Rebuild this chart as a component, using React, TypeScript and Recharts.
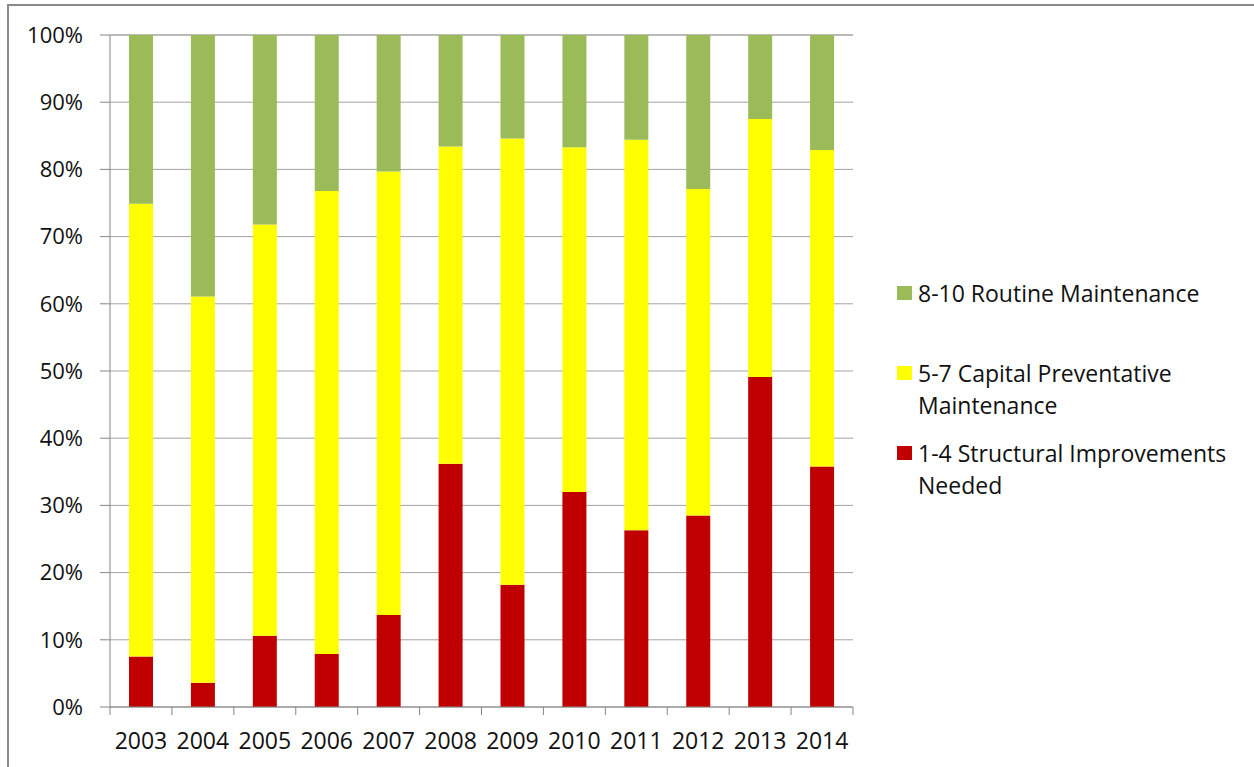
import { BarChart, Bar, XAxis, YAxis, CartesianGrid, Legend } from 'recharts';

const years = ['2003', '2004', '2005', '2006', '2007', '2008', '2009', '2010', '2011', '2012', '2013', '2014'];
// share of bridges per rating band, percent
const structural = [7.5, 3.6, 10.6, 7.9, 13.7, 36.2, 18.2, 32.0, 26.3, 28.5, 49.1, 35.8];
const capital = [67.4, 57.5, 61.2, 68.9, 66.0, 47.2, 66.4, 51.3, 58.1, 48.6, 38.4, 47.1];
const routine = [25.1, 38.9, 28.2, 23.2, 20.3, 16.6, 15.4, 16.7, 15.6, 22.9, 12.5, 17.1];
const pctTicks = [0, 10, 20, 30, 40, 50, 60, 70, 80, 90, 100];

const data = years.map((year, i) => ({
  year,
  structural: structural[i],
  capital: capital[i],
  routine: routine[i],
}));

const FONT = '"Open Sans", "Noto Sans", sans-serif';
const AXIS = '#868686';

function YearTick(props: any) {
  const { x, y, payload, index, visibleTicksCount } = props;
  const half = payload && typeof payload.offset === 'number' && payload.offset > 0 ? payload.offset : 30.96;
  const last = index === visibleTicksCount - 1;
  return (
    <g>
      <line x1={x - half} x2={x - half} y1={y} y2={y + 8} stroke={AXIS} />
      {last && <line x1={x + half} x2={x + half} y1={y} y2={y + 8} stroke={AXIS} />}
      <text x={x} y={y + 42} textAnchor="middle" fontSize={23} fill="#111" fontFamily={FONT}>
        {payload.value}
      </text>
    </g>
  );
}

function SideLegend(props: any) {
  const items = [...(props.payload || [])].reverse();
  return (
    <div style={{ fontFamily: FONT, fontSize: 23, color: '#111' }}>
      {items.map((it: any) => (
        <div key={it.value} style={{ display: 'flex', alignItems: 'flex-start', height: 80 }}>
          <span style={{ width: 15, height: 14, background: it.color, marginTop: 9, marginRight: 6, flex: 'none' }} />
          <span style={{ width: 335, lineHeight: '32px' }}>{it.value}</span>
        </div>
      ))}
    </div>
  );
}

export default function App() {
  return (
    <div style={{ position: 'relative', width: 1254, height: 767, overflow: 'hidden', background: '#fff' }}>
      <style>{'body{margin:0}'}</style>
      <div style={{ position: 'absolute', left: 7, top: 4, width: 1300, height: 800, borderLeft: '2px solid #8a8a8a', borderTop: '2px solid #8a8a8a' }} />
      <div style={{ position: 'absolute', left: 0, top: 0 }}>
        <BarChart width={1254} height={767} data={data} margin={{ top: 35, right: 401, bottom: 10, left: 30 }} barSize={24}>
          <CartesianGrid vertical={false} stroke="#a3a3a3" />
          <XAxis
            dataKey="year"
            height={50}
            axisLine={{ stroke: AXIS }}
            tickLine={false}
            tickSize={0}
            tickMargin={0}
            interval={0}
            tick={<YearTick />}
          />
          <YAxis
            width={80}
            domain={[0, 100]}
            ticks={pctTicks}
            tickFormatter={(v) => `${v}%`}
            axisLine={{ stroke: AXIS }}
            tickLine={{ stroke: AXIS }}
            tickSize={10}
            tickMargin={17}
            tick={{ fontSize: 22, fill: '#111', fontFamily: FONT }}
          />
          <Legend
            layout="vertical"
            align="center"
            verticalAlign="middle"
            content={<SideLegend />}
            wrapperStyle={{ left: 897, top: 277, width: 356, height: 240 }}
          />
          <Bar dataKey="structural" stackId="a" name="1-4 Structural Improvements Needed" fill="#C00000" isAnimationActive={false} />
          <Bar dataKey="capital" stackId="a" name="5-7 Capital Preventative Maintenance" fill="#FFFF00" isAnimationActive={false} />
          <Bar dataKey="routine" stackId="a" name="8-10 Routine Maintenance" fill="#9BBB59" isAnimationActive={false} />
        </BarChart>
      </div>
    </div>
  );
}
